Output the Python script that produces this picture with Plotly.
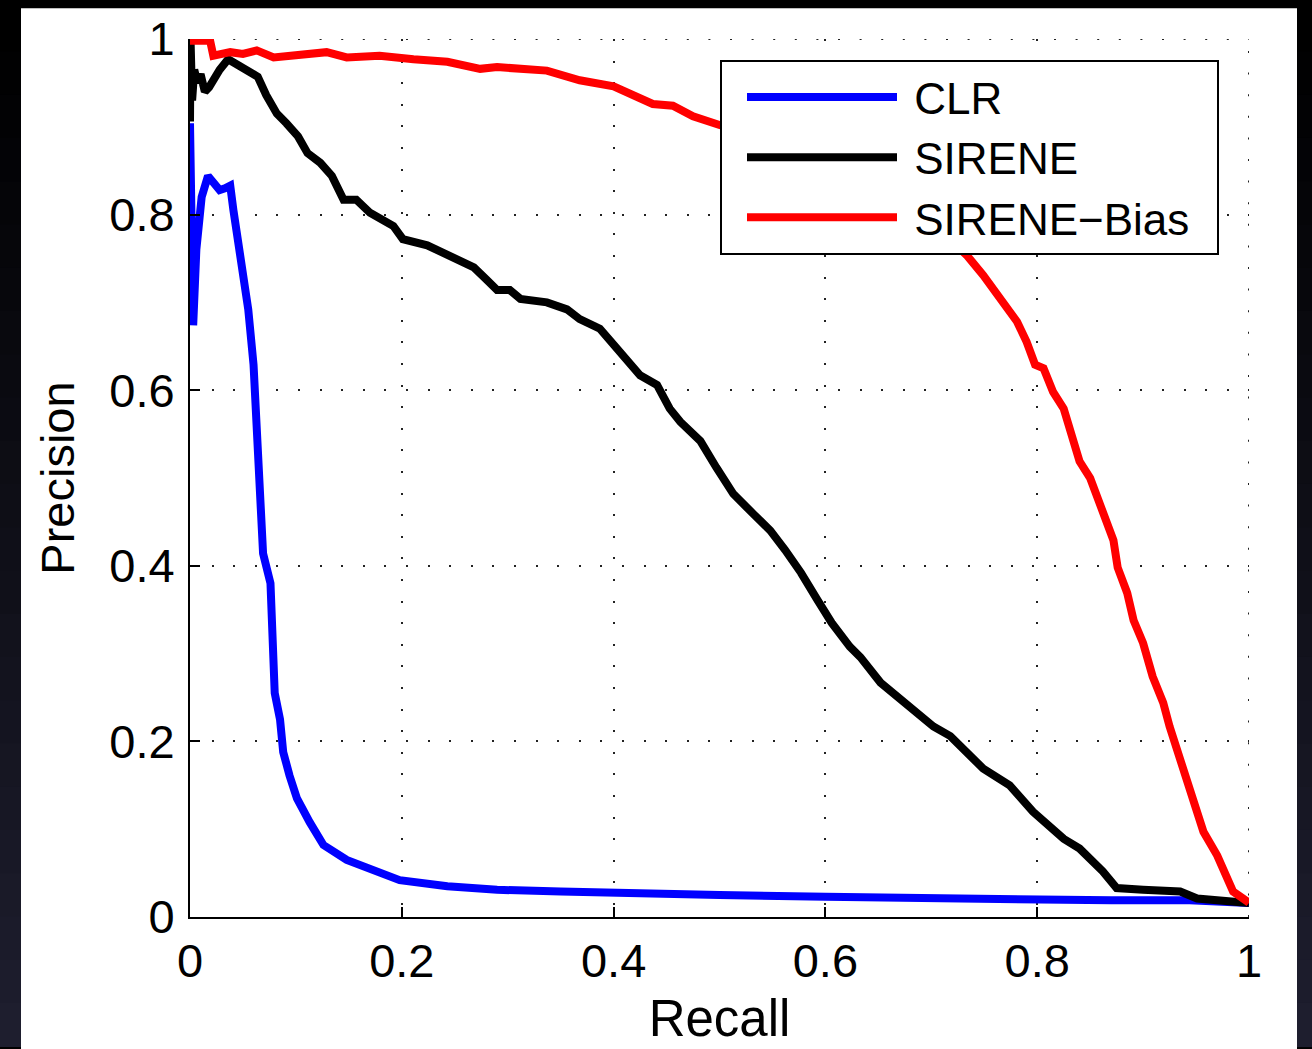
import plotly.graph_objects as go

# ---------------- data ----------------
clr_recall = [0, 0.0015, 0.003, 0.006, 0.011, 0.017, 0.022, 0.028, 0.033, 0.038,
              0.041, 0.044, 0.050, 0.055, 0.060, 0.064, 0.069, 0.076, 0.077, 0.080,
              0.085, 0.088, 0.094, 0.101, 0.113, 0.126, 0.148, 0.167, 0.198, 0.243,
              0.290, 0.350, 0.400, 0.500, 0.600, 0.700, 0.800, 0.870, 0.944, 1.0]
clr_precision = [0.904, 0.78, 0.674, 0.76, 0.82, 0.844, 0.835, 0.828, 0.830, 0.833,
                 0.805, 0.779, 0.742, 0.692, 0.629, 0.52, 0.414, 0.38, 0.323, 0.255,
                 0.225, 0.188, 0.161, 0.135, 0.108, 0.082, 0.065, 0.056, 0.042, 0.035,
                 0.031, 0.029, 0.027, 0.025, 0.023, 0.021, 0.021, 0.019, 0.019, 0.016]

sirene_recall = [0, 0.0005, 0.002, 0.004, 0.007, 0.010, 0.014, 0.018, 0.022, 0.028,
                 0.036, 0.045, 0.054, 0.064, 0.072, 0.082, 0.091, 0.102, 0.111, 0.123,
                 0.134, 0.145, 0.157, 0.170, 0.192, 0.201, 0.224, 0.246, 0.268, 0.280,
                 0.290, 0.302, 0.312, 0.337, 0.356, 0.368, 0.387, 0.400, 0.413, 0.425,
                 0.441, 0.453, 0.463, 0.482, 0.497, 0.513, 0.532, 0.548, 0.562, 0.577,
                 0.592, 0.606, 0.623, 0.633, 0.652, 0.680, 0.702, 0.718, 0.749, 0.774,
                 0.796, 0.825, 0.840, 0.862, 0.875, 0.900, 0.935, 0.951, 0.979, 1.0]
sirene_precision = [0.906, 1.0, 0.93, 0.965, 0.95, 0.96, 0.94, 0.945, 0.955, 0.965,
                    0.977, 0.97, 0.964, 0.957, 0.936, 0.915, 0.904, 0.889, 0.870, 0.859,
                    0.844, 0.817, 0.817, 0.802, 0.787, 0.772, 0.765, 0.753, 0.740, 0.726,
                    0.714, 0.714, 0.704, 0.700, 0.692, 0.681, 0.670, 0.652, 0.632, 0.617,
                    0.606, 0.579, 0.564, 0.542, 0.512, 0.482, 0.459, 0.440, 0.418, 0.392,
                    0.362, 0.335, 0.308, 0.296, 0.267, 0.240, 0.217, 0.206, 0.169, 0.150,
                    0.120, 0.089, 0.078, 0.052, 0.033, 0.031, 0.029, 0.021, 0.018, 0.016]

bias_recall = [0, 0.019, 0.022, 0.030, 0.038, 0.050, 0.063, 0.079, 0.100, 0.129,
               0.148, 0.179, 0.211, 0.243, 0.274, 0.290, 0.337, 0.368, 0.400, 0.425,
               0.437, 0.456, 0.475, 0.500, 0.550, 0.600, 0.650, 0.700, 0.734, 0.749,
               0.765, 0.781, 0.790, 0.798, 0.806, 0.815, 0.825, 0.831, 0.840, 0.850,
               0.862, 0.872, 0.876, 0.885, 0.891, 0.900, 0.909, 0.919, 0.925, 0.932,
               0.941, 0.951, 0.957, 0.970, 0.976, 0.985, 0.998, 1.0]
bias_precision = [0.998, 0.998, 0.981, 0.983, 0.985, 0.983, 0.987, 0.979, 0.982, 0.985,
                  0.979, 0.981, 0.977, 0.974, 0.966, 0.968, 0.964, 0.953, 0.946, 0.934,
                  0.926, 0.924, 0.912, 0.902, 0.885, 0.862, 0.832, 0.792, 0.753, 0.731,
                  0.704, 0.678, 0.655, 0.629, 0.625, 0.598, 0.579, 0.553, 0.519, 0.500,
                  0.463, 0.429, 0.398, 0.369, 0.338, 0.312, 0.274, 0.244, 0.217, 0.191,
                  0.153, 0.123, 0.097, 0.070, 0.052, 0.029, 0.018, 0.016]

series_names = ["CLR", "SIRENE", "SIRENE\u2212Bias"]
series_colors = ["#0000ff", "#000000", "#ff0000"]

tick_vals = [0, 0.2, 0.4, 0.6, 0.8, 1]
tick_text = ["0", "0.2", "0.4", "0.6", "0.8", "1"]

# ---------------- figure ----------------
W, H = 1312, 1049
L, R, T, B = 190, 63, 35, 130
PW, PH = W - L - R, H - T - B
FONT = "Liberation Sans, Arial, Helvetica, sans-serif"
GRID_DASH = "2px,19.6px"


def px_x(px):
    return (px - L) / PW


def px_y(py):
    return (H - B - py) / PH


fig = go.Figure()
for rr, pp, name, col in zip([clr_recall, sirene_recall, bias_recall],
                             [clr_precision, sirene_precision, bias_precision],
                             series_names, series_colors):
    fig.add_trace(go.Scatter(x=rr, y=pp, mode="lines",
                             name="\u00a0" + name + "\u2002",
                             line=dict(color=col, width=8)))

# dark frame around a white figure area
shapes = []
shapes.append(dict(type="rect", xref="paper", yref="paper", layer="below",
                   x0=px_x(21), x1=px_x(1297), y0=px_y(H + 20), y1=px_y(4),
                   fillcolor="white", line=dict(width=0)))
steps = 24
for i in range(steps):
    f = i / (steps - 1)
    col = "rgb(%d,%d,%d)" % (int(30 * f), int(30 * f), int(46 * f))
    y_top = 4 + (H - 4) * i / steps
    y_bot = 4 + (H - 4) * (i + 1) / steps + 1
    for xa, xb in [(0, 21), (1297, W)]:
        shapes.append(dict(type="rect", xref="paper", yref="paper", layer="below",
                           x0=px_x(xa), x1=px_x(xb), y0=px_y(y_bot), y1=px_y(y_top),
                           fillcolor=col, line=dict(width=0)))
# dotted grid lines at the far edges (x = 1, y = 1)
shapes.append(dict(type="line", xref="x", yref="y", layer="below", x0=0, x1=1, y0=1, y1=1,
                   line=dict(color="#222222", width=2, dash=GRID_DASH)))
shapes.append(dict(type="line", xref="x", yref="y", layer="below", x0=1, x1=1, y0=0, y1=1,
                   line=dict(color="#222222", width=2, dash=GRID_DASH)))

axis_common = dict(
    range=[0, 1], tickmode="array", tickvals=tick_vals, ticktext=tick_text,
    showline=True, linecolor="black", linewidth=2, mirror=False,
    ticks="inside", ticklen=10, tickwidth=2, tickcolor="black",
    showgrid=True, gridcolor="#222222", gridwidth=2, griddash=GRID_DASH,
    zeroline=False, tickfont=dict(family=FONT, size=47, color="black"),
)

fig.update_layout(
    width=W, height=H, autosize=False,
    margin=dict(l=L, r=R, t=T, b=B),
    paper_bgcolor="black", plot_bgcolor="white",
    font=dict(family=FONT, color="black"),
    xaxis=dict(**axis_common, ticklabelstandoff=2,
               title=dict(text="Recall", font=dict(family=FONT, size=51, color="black"),
                          standoff=14)),
    yaxis=dict(**axis_common, ticklabelstandoff=4,
               title=dict(text="Precision", font=dict(family=FONT, size=47, color="black"),
                          standoff=20)),
    legend=dict(x=px_x(720), y=px_y(56), xanchor="left", yanchor="top",
                bgcolor="white", bordercolor="black", borderwidth=2,
                font=dict(family=FONT, size=44, color="black"),
                itemwidth=150, indentation=20, tracegroupgap=0),
    shapes=shapes,
    showlegend=True,
)

fig.write_html("out.html", config={"displayModeBar": False},
               post_script="document.body.style.margin='0';document.body.style.background='black';")
